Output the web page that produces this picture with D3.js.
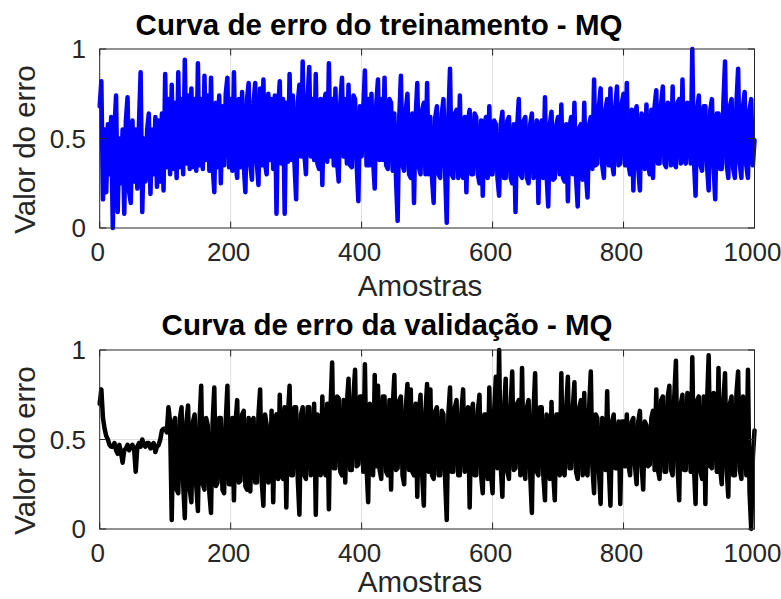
<!DOCTYPE html>
<html lang="pt">

<head>
    <meta charset="UTF-8">
    <title>Curvas de erro - MQ</title>
    <script src="https://d3js.org/d3.v7.min.js"></script>
    <style>
        body { margin: 0; background: #fff; }
        text { font-family: "Liberation Sans", Arial, Helvetica, sans-serif; }
    </style>
</head>

<body>
    <div id="chart"></div>

    <script>

        // valores, um a cada 2,5 amostras (20 por linha = 50 amostras)
        const passo = 2.5;

        const erroTreino = [
            .68, .82, .16, .55, .20, .58, .30, .62, .00, .55, .74, .09, .50, .25, .55, .08, .60, .73, .20, .14,
            .60, .26, .55, .22, .58, .87, .09, .50, .26, .55, .64, .19, .55, .30, .62, .23, .60, .26, .64, .21,
            .86, .34, .72, .30, .80, .33, .70, .28, .87, .34, .72, .30, .94, .36, .74, .33, .78, .34, .72, .32,
            .92, .35, .72, .33, .85, .38, .74, .32, .84, .35, .20, .70, .34, .74, .25, .68, .35, .75, .84, .34,
            .72, .32, .87, .36, .28, .72, .34, .76, .35, .20, .72, .81, .35, .27, .70, .81, .36, .24, .78, .35,
            .83, .36, .30, .75, .38, .72, .33, .74, .08, .66, .82, .36, .72, .08, .70, .37, .86, .38, .74, .36,
            .16, .70, .80, .40, .93, .42, .30, .72, .90, .40, .72, .38, .86, .36, .33, .72, .24, .70, .75, .37,
            .92, .40, .72, .35, .78, .37, .26, .70, .84, .40, .72, .36, .80, .35, .34, .74, .72, .35, .15, .68,
            .40, .66, .88, .35, .72, .35, .75, .38, .22, .70, .83, .38, .72, .38, .84, .35, .33, .72, .70, .32,
            .64, .28, .04, .62, .85, .35, .32, .66, .75, .30, .28, .64, .14, .62, .81, .34, .30, .66, .70, .30,
            .81, .30, .62, .28, .14, .62, .68, .30, .28, .64, .72, .32, .03, .62, .89, .30, .28, .64, .66, .28,
            .74, .32, .28, .62, .20, .60, .66, .30, .30, .64, .62, .30, .25, .60, .18, .58, .62, .28, .68, .30,
            .30, .60, .58, .28, .18, .58, .65, .28, .28, .60, .62, .28, .25, .58, .09, .56, .72, .30, .28, .60,
            .62, .28, .25, .58, .64, .28, .32, .60, .14, .56, .60, .28, .73, .30, .12, .58, .65, .27, .28, .58,
            .62, .30, .69, .28, .26, .58, .15, .56, .62, .30, .70, .28, .12, .56, .58, .27, .70, .30, .17, .58,
            .62, .33, .83, .35, .36, .68, .78, .35, .28, .66, .72, .35, .78, .36, .30, .68, .79, .35, .36, .70,
            .75, .35, .81, .36, .30, .66, .21, .64, .68, .33, .21, .64, .58, .33, .69, .35, .30, .66, .28, .68,
            .77, .36, .36, .70, .79, .36, .34, .70, .68, .35, .79, .36, .34, .70, .72, .36, .83, .38, .36, .70,
            .58, .36, 1.00, .38, .18, .66, .74, .35, .32, .68, .68, .35, .21, .66, .72, .35, .16, .64, .64, .33,
            .33, .70, .93, .36, .28, .68, .72, .33, .28, .70, .89, .36, .28, .68, .76, .35, .28, .66, .72, .35,
            .49
        ];

        const erroValidacao = [
            .70, .78, .62, .56, .52, .50, .47, .46, .46, .48, .44, .42, .47, .43, .37, .44, .45, .47, .44, .46,
            .47, .45, .32, .46, .48, .46, .50, .47, .46, .48, .48, .45, .47, .48, .43, .46, .47, .50, .55, .56,
            .56, .54, .68, .60, .05, .58, .62, .22, .20, .62, .68, .25, .06, .60, .69, .22, .15, .60, .64, .24,
            .10, .60, .80, .25, .22, .62, .58, .20, .09, .60, .79, .24, .26, .62, .62, .22, .20, .60, .80, .25,
            .25, .62, .16, .60, .72, .26, .27, .64, .66, .24, .22, .62, .21, .60, .62, .26, .26, .64, .78, .26,
            .13, .64, .58, .26, .28, .66, .15, .62, .64, .28, .75, .30, .28, .68, .12, .64, .80, .30, .30, .68,
            .68, .28, .08, .64, .68, .30, .28, .68, .68, .30, .32, .70, .08, .64, .58, .30, .74, .34, .30, .70,
            .11, .68, .93, .34, .34, .74, .73, .32, .30, .72, .26, .70, .84, .33, .33, .74, .89, .35, .36, .74,
            .74, .32, .92, .35, .15, .70, .66, .30, .86, .35, .80, .33, .28, .74, .74, .32, .30, .72, .22, .68,
            .86, .33, .34, .72, .74, .30, .25, .68, .81, .33, .78, .32, .30, .70, .18, .66, .75, .30, .13, .66,
            .81, .32, .78, .30, .28, .66, .68, .30, .30, .66, .64, .28, .05, .64, .79, .32, .32, .68, .72, .30,
            .30, .66, .78, .32, .34, .68, .12, .64, .70, .30, .30, .66, .75, .30, .20, .64, .64, .28, .79, .32,
            .20, .66, .85, .34, 1.00, .35, .18, .66, .84, .32, .28, .68, .88, .33, .34, .70, .72, .30, .90, .34,
            .28, .68, .72, .30, .09, .66, .87, .32, .30, .68, .68, .30, .16, .64, .58, .28, .71, .32, .16, .64,
            .64, .30, .87, .32, .30, .68, .85, .34, .34, .68, .82, .32, .28, .68, .72, .30, .76, .32, .30, .68,
            .88, .34, .20, .64, .62, .32, .14, .62, .58, .33, .77, .34, .13, .60, .64, .34, .34, .60, .14, .60,
            .60, .35, .64, .36, .30, .60, .62, .35, .25, .60, .66, .36, .22, .60, .58, .35, .36, .62, .66, .33,
            .78, .33, .28, .72, .74, .32, .32, .74, .80, .33, .30, .74, .94, .35, .16, .70, .75, .33, .33, .76,
            .64, .32, .96, .35, .14, .72, .74, .32, .28, .74, .14, .70, .97, .35, .34, .76, .74, .32, .90, .34,
            .25, .72, .87, .33, .18, .70, .74, .30, .30, .76, .88, .33, .28, .74, .64, .30, .89, .20, .00, .40,
            .55
        ];

        const ticksX = [0, 200, 400, 600, 800, 1000];
        const ticksY = [0, 0.5, 1];

        const W = 781, H = 599;
        const svg = d3.select("#chart").append("svg")
            .attr("width", W)
            .attr("height", H);

        const x = d3.scaleLinear().domain([0, 1000]).range([99.7, 754.5]);

        function painel(valores, cor, topo, base, titulo, tituloX, tituloY, rotuloY) {
            const y = d3.scaleLinear().domain([0, 1]).range([base, topo]);
            const g = svg.append("g");

            // grade
            g.selectAll(".gx").data(ticksX.slice(1, -1)).join("line")
                .attr("x1", d => x(d)).attr("x2", d => x(d))
                .attr("y1", topo).attr("y2", base)
                .attr("stroke", "#dfdfdf").attr("stroke-width", 1);
            g.append("line")
                .attr("x1", x(0)).attr("x2", x(1000))
                .attr("y1", y(0.5)).attr("y2", y(0.5))
                .attr("stroke", "#dfdfdf").attr("stroke-width", 1);

            // curva
            const linha = d3.line()
                .x((d, i) => x(i * passo))
                .y(d => y(d));
            g.append("path")
                .datum(valores)
                .attr("d", linha)
                .attr("fill", "none")
                .attr("stroke", cor)
                .attr("stroke-width", 4.5)
                .attr("stroke-linejoin", "round")
                .attr("stroke-linecap", "round");

            // caixa e marcas
            g.append("rect")
                .attr("x", x(0)).attr("y", topo)
                .attr("width", x(1000) - x(0)).attr("height", base - topo)
                .attr("fill", "none").attr("stroke", "#262626").attr("stroke-width", 1);

            const tam = 6.5;
            ticksX.forEach(t => {
                g.append("line").attr("x1", x(t)).attr("x2", x(t))
                    .attr("y1", base).attr("y2", base - tam).attr("stroke", "#262626");
                g.append("line").attr("x1", x(t)).attr("x2", x(t))
                    .attr("y1", topo).attr("y2", topo + tam).attr("stroke", "#262626");
            });
            ticksY.forEach(t => {
                g.append("line").attr("x1", x(0)).attr("x2", x(0) + tam)
                    .attr("y1", y(t)).attr("y2", y(t)).attr("stroke", "#262626");
                g.append("line").attr("x1", x(1000)).attr("x2", x(1000) - tam)
                    .attr("y1", y(t)).attr("y2", y(t)).attr("stroke", "#262626");
            });

            // rótulos das marcas
            g.selectAll(".tx").data(ticksX).join("text")
                .attr("x", d => x(d) - 2)
                .attr("y", base + 33)
                .attr("text-anchor", "middle")
                .attr("font-size", 26)
                .attr("fill", "#262626")
                .text(d => d);
            g.selectAll(".ty").data(ticksY).join("text")
                .attr("x", 86)
                .attr("y", d => y(d))
                .attr("dy", "0.35em")
                .attr("text-anchor", "end")
                .attr("font-size", 26)
                .attr("fill", "#262626")
                .text(d => d);

            // títulos dos eixos
            g.append("text")
                .attr("x", 420)
                .attr("y", rotuloY)
                .attr("text-anchor", "middle")
                .attr("font-size", 29.5)
                .attr("fill", "#262626")
                .text("Amostras");
            g.append("text")
                .attr("transform", `translate(35,${(topo + base) / 2 + 11}) rotate(-90)`)
                .attr("text-anchor", "middle")
                .attr("font-size", 29.5)
                .attr("fill", "#262626")
                .text("Valor do erro");

            g.append("text")
                .attr("x", tituloX)
                .attr("y", tituloY)
                .attr("text-anchor", "middle")
                .attr("font-size", 29.5)
                .attr("font-weight", "bold")
                .attr("fill", "#000")
                .text(titulo);
        }

        painel(erroTreino, "#0000ff", 49, 228, "Curva de erro do treinamento - MQ", 379, 35, 296);
        painel(erroValidacao, "#000000", 350, 529, "Curva de erro da validação - MQ", 387, 335, 592);

    </script>
</body>

</html>
